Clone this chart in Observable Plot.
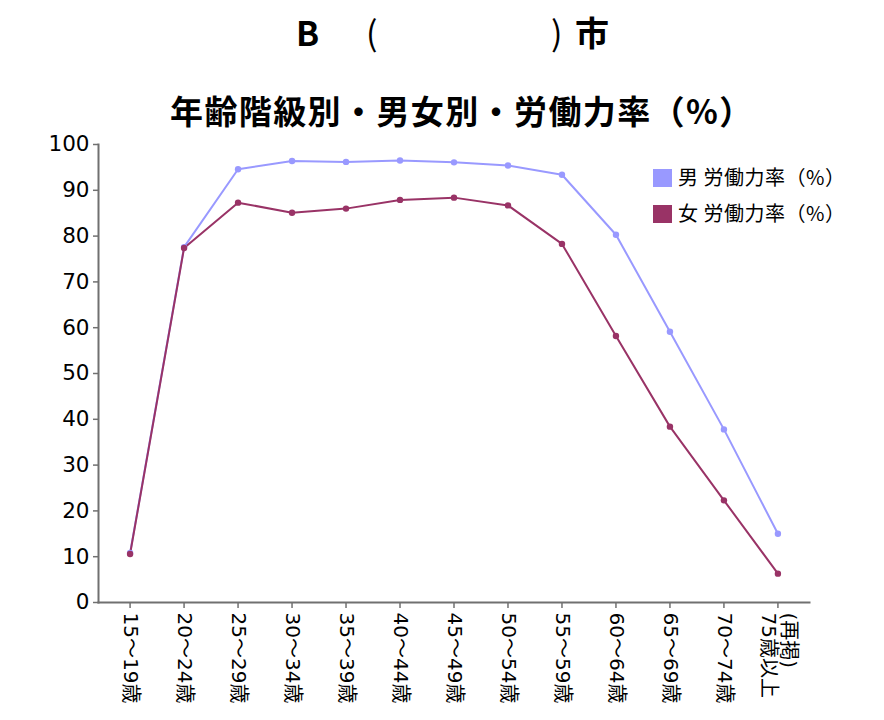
<!DOCTYPE html>
<html><head><meta charset="utf-8">
<script src="https://cdn.jsdelivr.net/npm/d3@7"></script>
<script src="https://cdn.jsdelivr.net/npm/@observablehq/plot@0.6"></script>
<style>
body{margin:0;background:#fff;}
#wrap{position:relative;width:884px;height:720px;font-family:"Noto Sans CJK JP",sans-serif;color:#000;}
.t{position:absolute;white-space:pre;line-height:1;}
.b{font-weight:bold;}
.sw{position:absolute;width:19px;height:18px;}
#chart{position:absolute;left:0;top:130px;}
#legend{position:absolute;left:0;top:0;z-index:2;}
</style></head><body>
<div id="wrap">
  <span class="t b" style="left:296px;top:15px;font-size:34px">B</span>
  <span class="t" style="left:366px;top:15px;font-size:34px">(</span>
  <span class="t" style="left:551px;top:15px;font-size:34px">)</span>
  <span class="t b" style="left:575px;top:15px;font-size:34px">市</span>
  <div class="t b" style="left:170px;top:94px;font-size:33px;letter-spacing:1.4px">年齢階級別・男女別・労働力率（%）</div>
  <div id="chart"></div>
  <div id="legend"></div>
</div>
<script>
const ages = ["15～19歳","20～24歳","25～29歳","30～34歳","35～39歳","40～44歳","45～49歳","50～54歳","55～59歳","60～64歳","65～69歳","70～74歳","(再掲)\n75歳以上"];
const male = [10.8, 77.6, 94.6, 96.4, 96.2, 96.5, 96.1, 95.4, 93.4, 80.3, 59.1, 37.8, 15.0];
const female = [10.6, 77.4, 87.3, 85.1, 86.0, 87.9, 88.4, 86.7, 78.3, 58.2, 38.4, 22.3, 6.3];
const seriesNames = ["男 労働力率（%）", "女 労働力率（%）"];
const seriesColors = ["#9999FF", "#993366"];
const yTicks = [0,10,20,30,40,50,60,70,80,90,100];

const data = [];
ages.forEach((a,i)=>{ data.push({age:a, s:seriesNames[0], v:male[i]}); });
ages.forEach((a,i)=>{ data.push({age:a, s:seriesNames[1], v:female[i]}); });

const axisColor = "#707070";
const chart = Plot.plot({
  width: 884, height: 590,
  marginTop: 14, marginBottom: 118, marginLeft: 98, marginRight: 75,
  style: {fontFamily: '"DejaVu Sans","Noto Sans CJK JP",sans-serif', fontSize: "20px", color: "#000", background: "#fff", overflow: "visible"},
  x: {type: "point", domain: ages, padding: 0.585, round: false},
  y: {domain: [0, 100]},
  color: {domain: seriesNames, range: seriesColors},
  marks: [
    Plot.axisY({ticks: yTicks, tickSize: 5, tickPadding: 4, fontSize: 21.5, stroke: axisColor, strokeWidth: 1.5, fill: "#000", label: null}),
    Plot.axisX({tickRotate: 90, textAnchor: "start", lineAnchor: "middle", tickSize: 6, tickPadding: 4, fontSize: 20, stroke: axisColor, strokeWidth: 1.5, fill: "#000", label: null}),
    Plot.frame({anchor: "left", stroke: axisColor, strokeWidth: 2}),
    Plot.frame({anchor: "bottom", stroke: axisColor, strokeWidth: 2}),
    Plot.line(data, {x: "age", y: "v", z: "s", stroke: "s", strokeWidth: 2}),
    Plot.dot(data, {x: "age", y: "v", fill: "s", r: 3.2})
  ]
});
document.getElementById("chart").appendChild(chart);

const lg = document.getElementById("legend");
const legY = [169, 205];
seriesNames.forEach((n,i)=>{
  const sw = document.createElement("div");
  sw.className = "sw"; sw.style.left = "653px"; sw.style.top = legY[i] + "px"; sw.style.background = seriesColors[i];
  lg.appendChild(sw);
  const tx = document.createElement("div");
  tx.className = "t"; tx.style.left = "678px"; tx.style.top = (legY[i] - 2) + "px"; tx.style.fontSize = "20px"; tx.style.letterSpacing = "0.5px";
  tx.textContent = n;
  lg.appendChild(tx);
});
</script>
</body></html>
